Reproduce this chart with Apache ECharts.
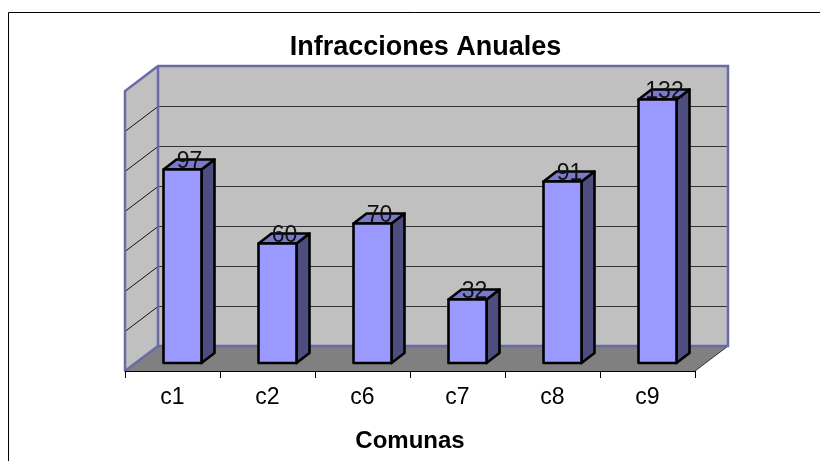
<!DOCTYPE html>
<html>
<head>
<meta charset="utf-8">
<style>
  html, body { margin: 0; padding: 0; background: #fff; }
  #chart { width: 820px; height: 461px; }
</style>
<script src="https://cdn.jsdelivr.net/npm/echarts@6/dist/echarts.min.js"></script>
</head>
<body>
<div id="chart"></div>
<script>
const categories = ["c1", "c2", "c6", "c7", "c8", "c9"]
const infracciones = [97, 60, 70, 32, 91, 132]
const gridTicks = [20, 40, 60, 80, 100, 120]

const FONT = '"Liberation Sans", Arial, sans-serif'
// oblique offset of the back wall and of a bar's own depth
const WALL_DX = 33
const WALL_DY = 25
const BAR_SHIFT_X = 10
const BAR_SHIFT_Y = 8
const BAR_DX = 13
const BAR_DY = 10
const BAR_WIDTH = 38

const chart = echarts.init(document.getElementById("chart"), null, { renderer: "canvas" })

function poly(points, style) {
  return { type: "polygon", shape: { points }, style }
}

function line(x1, y1, x2, y2, stroke, lineWidth) {
  return { type: "line", shape: { x1, y1, x2, y2 }, style: { stroke, lineWidth } }
}

function renderWalls(params, api) {
  if (params.dataIndex > 0) return { type: "group", children: [] }

  const box = params.coordSys
  const left = box.x
  const right = box.x + box.width
  const bottom = box.y + box.height
  const top = box.y
  const wallBorder = "#6a6aa6"
  const children = [
    poly([[left, top], [left + WALL_DX, top - WALL_DY], [left + WALL_DX, bottom - WALL_DY], [left, bottom]], { fill: "#c0c0c0" }),
    poly([[left + WALL_DX, top - WALL_DY], [right + WALL_DX, top - WALL_DY], [right + WALL_DX, bottom - WALL_DY], [left + WALL_DX, bottom - WALL_DY]], { fill: "#c0c0c0" }),
    poly([[left, bottom], [left + WALL_DX, bottom - WALL_DY], [right + WALL_DX, bottom - WALL_DY], [right, bottom]], { fill: "#808080" })
  ]

  gridTicks.forEach((tick) => {
    const y = Math.round(api.coord([0, tick])[1]) + 0.5
    children.push(line(left, y, left + WALL_DX, y - WALL_DY, "#111", 1))
    children.push(line(left + WALL_DX, y - WALL_DY, right + WALL_DX, y - WALL_DY, "#333", 1))
  })

  children.push(line(right, bottom, right + WALL_DX, bottom - WALL_DY, "#333", 1))
  children.push({
    type: "polyline",
    shape: { points: [[left, bottom], [left, top], [left + WALL_DX, top - WALL_DY], [right + WALL_DX, top - WALL_DY], [right + WALL_DX, bottom - WALL_DY], [left + WALL_DX, bottom - WALL_DY], [left + WALL_DX, top - WALL_DY]] },
    style: { stroke: wallBorder, lineWidth: 2.5, fill: null }
  })
  children.push(line(left, bottom, left + WALL_DX, bottom - WALL_DY, wallBorder, 2.5))

  return { type: "group", children }
}

function renderBar(params, api) {
  const foot = api.coord([api.value(0), 0])
  const head = api.coord([api.value(0), api.value(1)])
  const x0 = foot[0] + BAR_SHIFT_X - BAR_WIDTH / 2
  const x1 = x0 + BAR_WIDTH
  const yBottom = foot[1] - BAR_SHIFT_Y
  const yTop = head[1] - BAR_SHIFT_Y + 0.5
  const outline = { stroke: "#000", lineWidth: 2.6, lineJoin: "round" }

  return {
    type: "group",
    children: [
      poly([[x1, yTop], [x1 + BAR_DX, yTop - BAR_DY], [x1 + BAR_DX, yBottom - BAR_DY], [x1, yBottom]], { fill: "#4d4d80", ...outline }),
      poly([[x0, yTop], [x0 + BAR_DX, yTop - BAR_DY], [x1 + BAR_DX, yTop - BAR_DY], [x1, yTop]], { fill: "#7a7acc", ...outline }),
      poly([[x0, yTop], [x1, yTop], [x1, yBottom], [x0, yBottom]], { fill: "#9999ff", ...outline }),
      {
        type: "text",
        style: {
          x: x0 + 26,
          y: yTop - 8,
          text: String(api.value(1)),
          fill: "#111",
          font: `23px ${FONT}`,
          align: "center",
          verticalAlign: "middle"
        }
      }
    ]
  }
}

chart.setOption({
  animation: false,
  backgroundColor: "#fff",
  title: {
    text: "Infracciones Anuales",
    left: 420.5,
    top: 29,
    textAlign: "center",
    textStyle: { fontFamily: FONT, fontSize: 27, fontWeight: "bold", color: "#000" }
  },
  grid: { left: 125, right: 125, top: 91, bottom: 90 },
  xAxis: {
    type: "category",
    data: categories,
    name: "Comunas",
    nameLocation: "middle",
    nameGap: 58,
    nameTextStyle: { fontFamily: FONT, fontSize: 24, fontWeight: "bold", color: "#000" },
    axisLine: { show: true, onZero: false, lineStyle: { color: "#000", width: 1 } },
    axisTick: { show: true, alignWithLabel: false, length: 7, lineStyle: { color: "#000", width: 1 } },
    axisLabel: { fontFamily: FONT, fontSize: 23, color: "#000", margin: 15 },
    z: 5
  },
  yAxis: {
    type: "value",
    min: 0,
    max: 140,
    interval: 20,
    show: false
  },
  graphic: [
    // the chart area border runs off the screenshot on the right and bottom
    { type: "polyline", shape: { points: [[8.5, 461], [8.5, 12.5], [820, 12.5]] }, style: { stroke: "#000", lineWidth: 1, fill: null } }
  ],
  series: [
    {
      type: "custom",
      name: "Pared",
      renderItem: renderWalls,
      encode: { x: 0, y: 1 },
      data: categories.map((name) => [name, 0]),
      z: 1,
      silent: true
    },
    {
      type: "custom",
      name: "Infracciones",
      renderItem: renderBar,
      encode: { x: 0, y: 1 },
      data: categories.map((name, index) => [index, infracciones[index]]),
      z: 2
    }
  ]
})
</script>
</body>
</html>
